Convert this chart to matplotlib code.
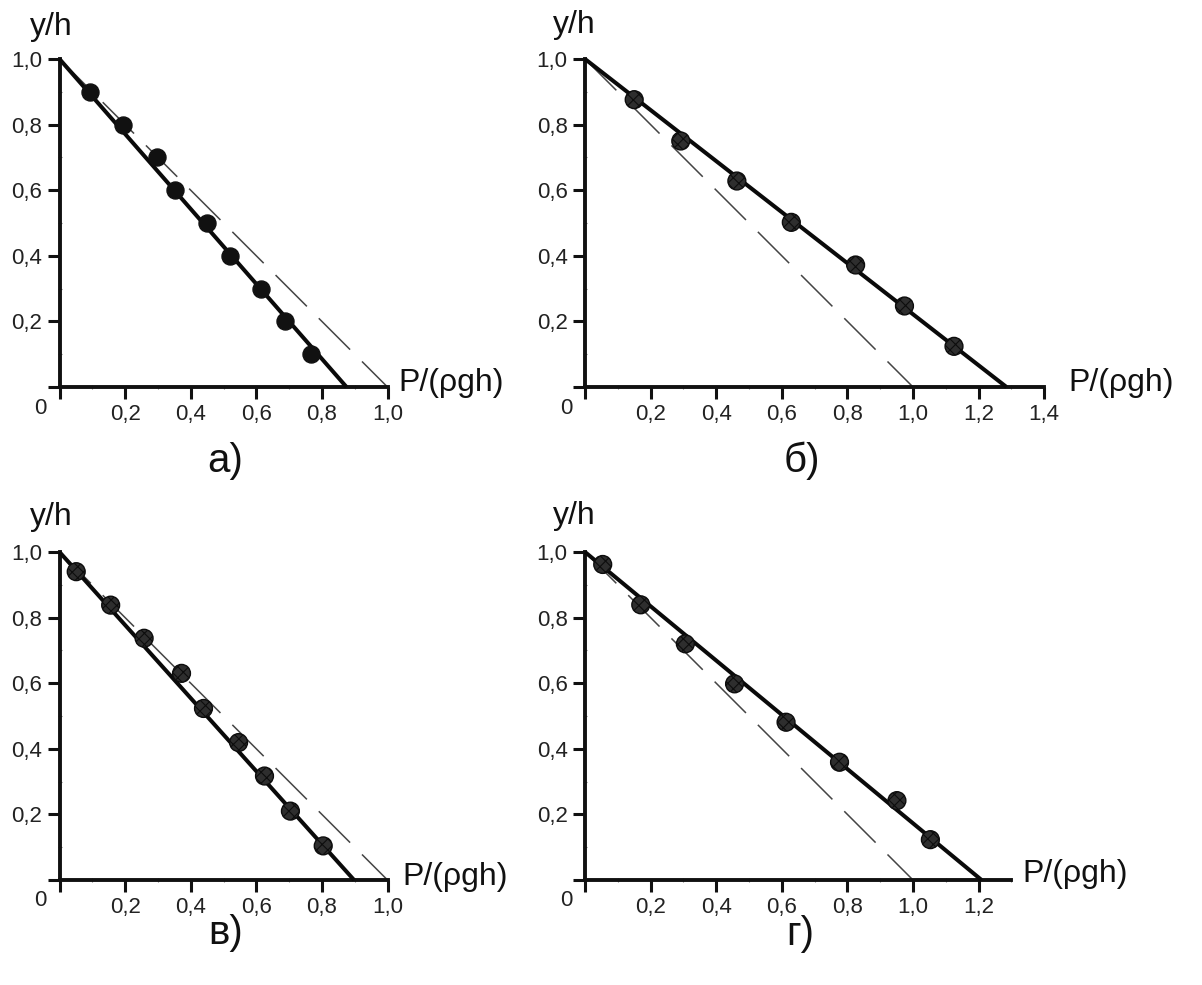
import matplotlib
matplotlib.use("Agg")
import matplotlib.pyplot as plt
from matplotlib.ticker import MultipleLocator, FixedLocator

plt.rcParams['font.family'] = ['Liberation Sans', 'DejaVu Sans']
plt.rcParams['hatch.linewidth'] = 0.8

W, H = 1202, 985

# Experimental pressure profiles (relative depth vs. dimensionless pressure)
a_p = [0.094, 0.194, 0.296, 0.352, 0.449, 0.520, 0.615, 0.686, 0.768]
a_y = [0.90, 0.80, 0.70, 0.60, 0.50, 0.40, 0.30, 0.20, 0.10]
a_fit_end = 0.875

b_p = [0.150, 0.292, 0.463, 0.629, 0.825, 0.974, 1.125]
b_y = [0.876, 0.750, 0.628, 0.502, 0.372, 0.247, 0.124]
b_fit_end = 1.285

c_p = [0.051, 0.156, 0.258, 0.372, 0.439, 0.546, 0.625, 0.704, 0.804]
c_y = [0.940, 0.838, 0.737, 0.630, 0.523, 0.419, 0.317, 0.210, 0.104]
c_fit_end = 0.898

d_p = [0.054, 0.170, 0.306, 0.456, 0.613, 0.776, 0.951, 1.053]
d_y = [0.962, 0.839, 0.720, 0.598, 0.481, 0.359, 0.242, 0.123]
d_fit_end = 1.209

# hydrostatic reference line P = rho*g*(h - y)
hydro_p = [0.0, 1.0]
hydro_y = [1.0, 0.0]

x_limits = [1.0, 1.4, 1.0, 1.3]
x_ticks = [[0.2, 0.4, 0.6, 0.8, 1.0],
           [0.2, 0.4, 0.6, 0.8, 1.0, 1.2, 1.4],
           [0.2, 0.4, 0.6, 0.8, 1.0],
           [0.2, 0.4, 0.6, 0.8, 1.0, 1.2]]
y_ticks = [0.2, 0.4, 0.6, 0.8, 1.0]
panel_names = ["а)", "б)", "в)", "г)"]

scale = 328.0  # pixels per unit on both axes
origins = [(59.5, 387.0), (585.0, 387.0), (59.5, 880.0), (585.0, 880.0)]
name_pos = [(225, 461), (802, 461), (226, 933), (800, 934)]
yh_pos = [(30, 27), (553, 25), (30, 517), (553, 516)]
xlabel_pos = [(398, 383), (1068, 383), (402, 877), (1022, 874)]

series = [(a_p, a_y, a_fit_end), (b_p, b_y, b_fit_end),
          (c_p, c_y, c_fit_end), (d_p, d_y, d_fit_end)]

fig = plt.figure(figsize=(W / 100, H / 100), dpi=100)


def fmt(v):
    return f"{v:.1f}".replace(".", ",")


for i in range(4):
    ox, oy = origins[i]
    xmax = x_limits[i]
    ax = fig.add_axes([ox / W, 1 - oy / H, xmax * scale / W, scale / H])
    ax.set_xlim(0, xmax)
    ax.set_ylim(0, 1.0)
    for s in ("top", "right"):
        ax.spines[s].set_visible(False)
    for s in ("left", "bottom"):
        ax.spines[s].set_linewidth(2.8)
        ax.spines[s].set_color("#111111")
    ax.patch.set_alpha(0)

    ax.xaxis.set_major_locator(FixedLocator([0.0] + x_ticks[i]))
    ax.set_xticklabels([""] + [fmt(v) for v in x_ticks[i]])
    ax.yaxis.set_major_locator(FixedLocator([0.0] + y_ticks))
    ax.set_yticklabels([""] + [fmt(v) for v in y_ticks])
    ax.xaxis.set_minor_locator(MultipleLocator(0.1))
    ax.yaxis.set_minor_locator(MultipleLocator(0.1))
    ax.tick_params(which="major", direction="out", length=8.5, width=2.2,
                   color="#111111", labelsize=16, labelcolor="#222222", pad=4)
    ax.tick_params(which="minor", direction="inout", length=3.5, width=0.8,
                   color="#777777")

    p, y, fit_end = series[i]
    ax.plot(hydro_p, hydro_y, color="#444444", lw=1.1,
            linestyle=(0, (29, 11)), zorder=2, clip_on=False)
    ax.plot([0.0, fit_end], [1.0, 0.0], color="#0a0a0a", lw=2.9,
            zorder=3, clip_on=False, solid_capstyle="butt")
    if i == 0:
        ax.scatter(p, y, s=150, color="#111111", zorder=4, clip_on=False)
    else:
        ax.scatter(p, y, s=165, facecolor="#2e2e2e", edgecolor="#0d0d0d",
                   linewidths=1.0, hatch="xxx", zorder=4, clip_on=False)

    ax.annotate("0", xy=(0, 0), xytext=(-19, -21), textcoords="offset pixels",
                ha="center", va="center", fontsize=16, color="#222222")

    fig.text(yh_pos[i][0] / W, 1 - yh_pos[i][1] / H, "y/h", ha="left",
             va="center", fontsize=23, color="#111111")
    fig.text(xlabel_pos[i][0] / W, 1 - xlabel_pos[i][1] / H, "P/(ρgh)",
             ha="left", va="center", fontsize=23, color="#111111")
    fig.text(name_pos[i][0] / W, 1 - name_pos[i][1] / H, panel_names[i],
             ha="center", va="center", fontsize=29, color="#111111")

fig.savefig("out.png", dpi=100, facecolor="white")
